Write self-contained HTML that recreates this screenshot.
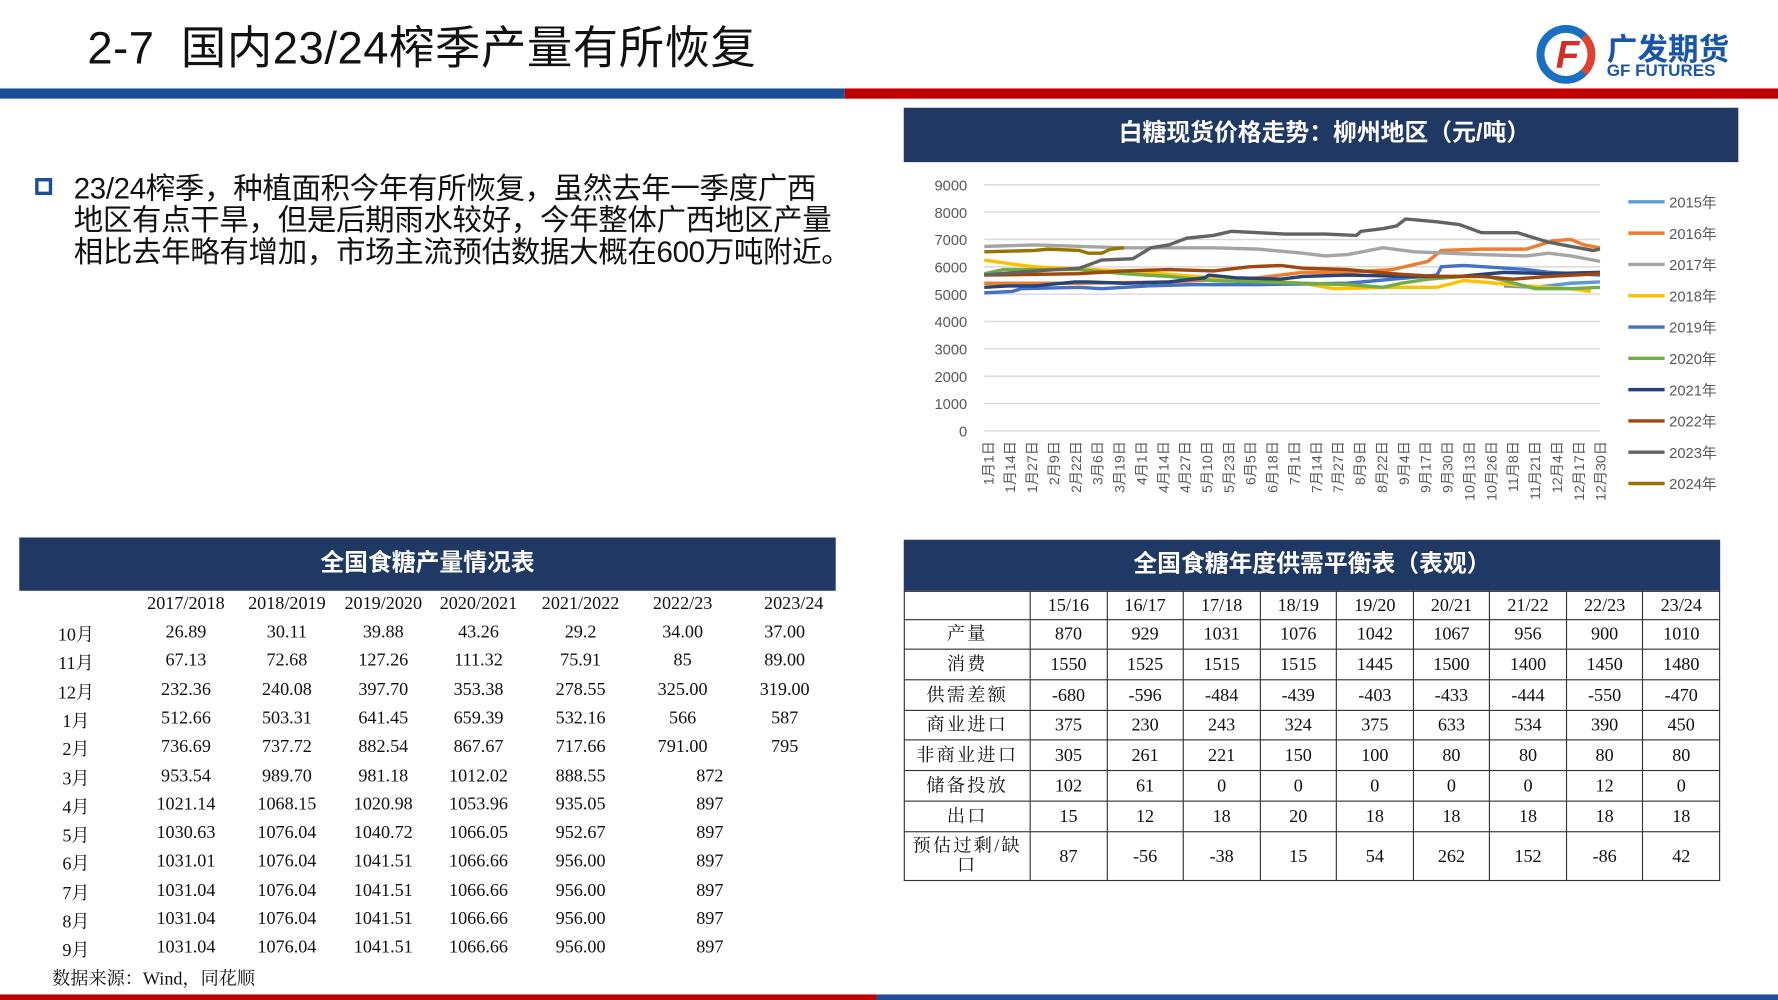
<!DOCTYPE html>
<html><head><meta charset="utf-8"><style>
html,body{margin:0;padding:0;width:1778px;height:1000px;overflow:hidden;background:#fff}
#w{position:absolute;left:0;top:0;width:1568px;height:882px;transform:scale(1.13393);transform-origin:0 0;font-family:"Liberation Sans","Noto Sans CJK SC",sans-serif;color:#111}
.a{position:absolute}
.nav{position:absolute;background:#1f3864;color:#fff;font-weight:bold;font-size:21px;text-align:center}
.t{position:absolute;font-family:"Liberation Serif","Noto Serif CJK SC",serif;font-size:16px;text-align:center;white-space:nowrap}
table{border-collapse:collapse}
#bt td{border:1.5px solid #333;text-align:center;font-family:"Liberation Serif","Noto Serif CJK SC",serif;font-size:16px;padding:0;line-height:17px}
</style></head><body><div id="w">
<div class="a" style="left:77px;top:10px;font-size:40px;white-space:nowrap;letter-spacing:0.5px">2-7&nbsp; 国内23/24榨季产量有所恢复</div>
<div class="a" style="left:1355px;top:22px;width:52px;height:52px;border-radius:50%;border:7px solid #1a6fc0;border-right-color:#e04030;box-sizing:border-box"></div>
<div class="a" style="left:1372px;top:30px;font-size:34px;font-weight:bold;color:#d0302a;font-style:italic">F</div>
<div class="a" style="left:1417px;top:22px;font-size:27px;font-weight:bold;color:#1a56a8;white-space:nowrap">广发期货</div>
<div class="a" style="left:1417px;top:54px;font-size:15px;font-weight:bold;color:#1a56a8;white-space:nowrap">GF FUTURES</div>
<div class="a" style="left:0;top:78px;width:745px;height:9px;background:#1f4e99"></div>
<div class="a" style="left:745px;top:78px;width:823px;height:9px;background:#c00000"></div>
<div class="a" style="left:31px;top:157px;width:15px;height:15px;border:3px solid #1f4e99;box-sizing:border-box"></div>
<div class="a" style="left:65px;top:152px;font-size:26px;line-height:28px;white-space:nowrap;letter-spacing:-0.3px">23/24榨季，种植面积今年有所恢复，虽然去年一季度广西<br>地区有点干旱，但是后期雨水较好，今年整体广西地区产量<br>相比去年略有增加，市场主流预估数据大概在600万吨附近。</div>
<div class="nav" style="left:797px;top:95px;width:736px;height:48px;line-height:46px;text-indent:6px">白糖现货价格走势：柳州地区（元/吨）</div>
<svg class="a" style="left:790px;top:145px" width="778" height="310" id="ch"></svg>
<div class="nav" style="left:17px;top:474px;width:720px;height:47px;line-height:46px">全国食糖产量情况表</div>
<div id="lt"></div>
<div class="a" style="left:46px;top:850px;font-size:16px;font-family:'Liberation Serif','Noto Serif CJK SC',serif">数据来源：Wind，同花顺</div>
<div class="nav" style="left:797px;top:476px;width:720px;height:45px;line-height:44px">全国食糖年度供需平衡表（表观）</div>
<table id="bt" class="a" style="left:797px;top:521px;width:720px"></table>
<div class="a" style="left:0;top:877px;width:773px;height:5px;background:#c00000"></div>
<div class="a" style="left:773px;top:877px;width:795px;height:5px;background:#1f4e99"></div>
</div>
<script>
var s=document.getElementById('ch'),h='';
var L=78,R=621,Y0=235,K=217/9000;
for(var v=0;v<=9000;v+=1000){var y=Y0-v*K;h+='<line x1="'+L+'" x2="'+R+'" y1="'+y+'" y2="'+y+'" stroke="#d9d9d9" stroke-width="1.3"/><text x="63" y="'+(y+5)+'" text-anchor="end" font-size="13" fill="#595959">'+v+'</text>';}
var lab=["1月1日","1月14日","1月27日","2月9日","2月22日","3月6日","3月19日","4月1日","4月14日","4月27日","5月10日","5月23日","6月5日","6月18日","7月1日","7月14日","7月27日","8月9日","8月22日","9月4日","9月17日","9月30日","10月13日","10月26日","11月8日","11月21日","12月4日","12月17日","12月30日"];
lab.forEach(function(t,i){var x=L+3+i*(540/28);h+='<text transform="translate('+(x+5)+',244) rotate(-90)" text-anchor="end" font-size="12.5" fill="#595959">'+t+'</text>';});
function X(z){return L+(z-187)/1378*543}
var S=[
["#5B9BD5",[[1350,5300],[1420,5250],[1500,5400],[1565,5450]]],
["#ED7D31",[[187,5400],[400,5400],[600,5450],[800,5600],[900,5800],[1000,5800],[1100,5900],[1180,6200],[1210,6600],[1300,6650],[1400,6650],[1460,6950],[1500,7000],[1530,6800],[1565,6700]]],
["#A5A5A5",[[187,6750],[300,6800],[500,6700],[700,6700],[800,6650],[900,6500],[950,6400],[1000,6450],[1080,6700],[1150,6550],[1300,6450],[1400,6400],[1450,6500],[1500,6400],[1565,6200]]],
["#FFC000",[[187,6250],[250,6100],[300,6000],[500,5850],[700,5600],[900,5400],[970,5200],[1100,5250],[1200,5250],[1260,5500],[1300,5450],[1400,5300],[1500,5200],[1545,5100]]],
["#4472C4",[[187,5050],[250,5100],[270,5200],[400,5250],[450,5200],[550,5300],[650,5350],[800,5350],[1000,5400],[1200,5700],[1210,6000],[1260,6050],[1400,5900],[1450,5800],[1565,5700]]],
["#70AD47",[[187,5750],[230,5900],[400,5900],[500,5750],[600,5650],[700,5500],[900,5400],[1000,5350],[1080,5250],[1120,5400],[1180,5550],[1300,5700],[1350,5500],[1420,5200],[1500,5200],[1565,5250]]],
["#264478",[[187,5250],[240,5300],[300,5300],[390,5450],[420,5450],[500,5400],[600,5450],[680,5600],[690,5700],[750,5600],[850,5550],[900,5650],[1000,5700],[1150,5650],[1250,5650],[1350,5800],[1450,5750],[1565,5800]]],
["#9E480E",[[187,5700],[400,5750],[500,5850],[600,5900],[700,5850],[780,6000],[850,6050],[900,5950],[1000,5900],[1100,5750],[1200,5650],[1300,5650],[1370,5550],[1450,5650],[1565,5750]]],
["#636363",[[187,5700],[300,5850],[400,5950],[450,6250],[520,6300],[560,6700],[600,6800],[640,7050],[700,7150],[740,7300],[800,7250],[860,7200],[950,7200],[1020,7150],[1030,7300],[1080,7400],[1110,7500],[1130,7750],[1200,7650],[1250,7550],[1300,7250],[1380,7250],[1450,6900],[1500,6750],[1550,6600],[1565,6650]]],
["#997300",[[187,6550],[300,6600],[330,6650],[400,6600],[420,6500],[450,6500],[470,6650],[500,6700]]]];
S.forEach(function(a,i){h+='<polyline fill="none" stroke="'+a[0]+'" stroke-width="3" points="'+a[1].map(function(p){return X(p[0]).toFixed(1)+','+(Y0-p[1]*K).toFixed(1)}).join(' ')+'"/>';
var y=33+i*27.6;h+='<line x1="646" x2="678" y1="'+y+'" y2="'+y+'" stroke="'+a[0]+'" stroke-width="3"/><text x="682" y="'+(y+5)+'" font-size="13" fill="#595959">'+(2015+i)+'年</text>';});
s.innerHTML=h;
var cx=[67,164,253,338,422,512,602,700],lt='',hd=["","2017/2018","2018/2019","2019/2020","2020/2021","2021/2022","2022/23","2023/24"];
hd.forEach(function(t,i){lt+='<div class="t" style="left:'+(cx[i]-50)+'px;width:100px;top:524px">'+t+'</div>';});
var rows=[["10月","26.89","30.11","39.88","43.26","29.2","34.00","37.00"],["11月","67.13","72.68","127.26","111.32","75.91","85","89.00"],["12月","232.36","240.08","397.70","353.38","278.55","325.00","319.00"],["1月","512.66","503.31","641.45","659.39","532.16","566","587"],["2月","736.69","737.72","882.54","867.67","717.66","791.00","795"],["3月","953.54","989.70","981.18","1012.02","888.55","872"],["4月","1021.14","1068.15","1020.98","1053.96","935.05","897"],["5月","1030.63","1076.04","1040.72","1066.05","952.67","897"],["6月","1031.01","1076.04","1041.51","1066.66","956.00","897"],["7月","1031.04","1076.04","1041.51","1066.66","956.00","897"],["8月","1031.04","1076.04","1041.51","1066.66","956.00","897"],["9月","1031.04","1076.04","1041.51","1066.66","956.00","897"]];
rows.forEach(function(r,j){var y=549+j*25.3;r.forEach(function(t,i){var c=cx[i]+(i==7?-8:0);if(r.length==7&&i==6)c=626;if((j==3||j==4)&&i==7)c=692;lt+='<div class="t" style="left:'+(c-50)+'px;width:100px;top:'+(i==0?y-2:y)+'px">'+t+'</div>';});});
document.getElementById('lt').innerHTML=lt;
var B=[["","15/16","16/17","17/18","18/19","19/20","20/21","21/22","22/23","23/24"],["产量","870","929","1031","1076","1042","1067","956","900","1010"],["消费","1550","1525","1515","1515","1445","1500","1400","1450","1480"],["供需差额","-680","-596","-484","-439","-403","-433","-444","-550","-470"],["商业进口","375","230","243","324","375","633","534","390","450"],["非商业进口","305","261","221","150","100","80","80","80","80"],["储备投放","102","61","0","0","0","0","0","12","0"],["出口","15","12","18","20","18","18","18","18","18"],["预估过剩/缺口","87","-56","-38","15","54","262","152","-86","42"]];
var hh=[25,26,27,27,26,27,27,27,43],bt='';
B.forEach(function(r,j){bt+='<tr style="height:'+hh[j]+'px">';r.forEach(function(t,i){bt+='<td style="'+(i==0?'width:110px;letter-spacing:2px':'')+'">'+t+'</td>';});bt+='</tr>';});
document.getElementById('bt').innerHTML=bt;
</script></body></html>
